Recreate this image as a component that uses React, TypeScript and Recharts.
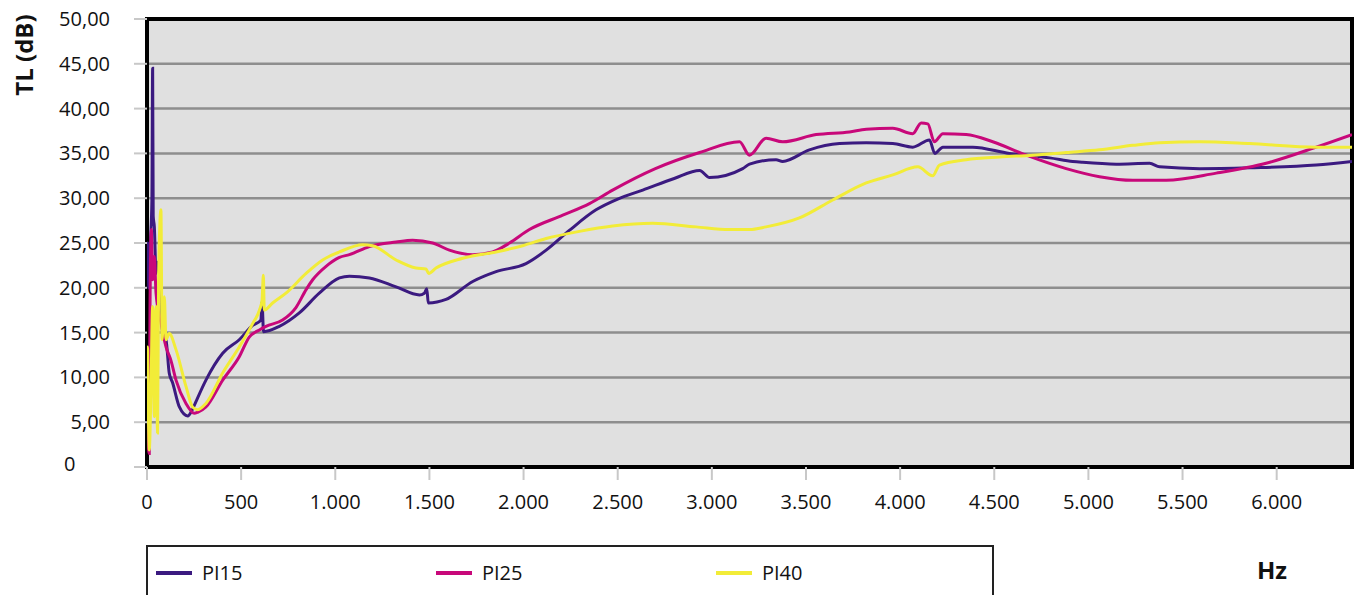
import React from "react";
import {
  CartesianGrid,
  Line,
  LineChart,
  ReferenceArea,
  XAxis,
  YAxis,
} from "recharts";

// [Hz, TL dB]
const PI15: [number, number][] = [
  [0, 22], [3, 25], [10, 20], [18, 25], [26, 29.8], [30, 44.5], [33, 28],
  [39, 26.8], [48, 21.6], [56, 22.8], [65, 22.9], [83, 14.9], [101, 14.2],
  [118, 10.5], [136, 9.4], [172, 6.7], [216, 5.7], [241, 6.4], [260, 7.3],
  [313, 9.7], [402, 12.7], [490, 14.2], [561, 15.8], [605, 16.4], [611, 18.4],
  [619, 15.1], [703, 15.7], [809, 17.2], [915, 19.4], [1022, 21.1],
  [1075, 21.3], [1181, 21.1], [1323, 20.1], [1447, 19.2], [1473, 19.4],
  [1486, 19.9], [1494, 18.3], [1588, 18.7], [1730, 20.7], [1854, 21.8],
  [2013, 22.7], [2120, 24.2], [2243, 26.4], [2385, 28.7], [2500, 29.9],
  [2633, 30.9], [2800, 32.2], [2935, 33.1], [2988, 32.3], [3164, 33.3],
  [3200, 33.8], [3341, 34.3], [3376, 34.1], [3518, 35.4], [3678, 36.1],
  [3820, 36.2], [3961, 36.1], [4067, 35.7], [4156, 36.5], [4184, 35.0],
  [4227, 35.7], [4386, 35.7], [4581, 35.0], [4670, 34.8], [4794, 34.5],
  [4917, 34.1], [4970, 34.0], [5148, 33.8], [5325, 33.9], [5378, 33.5],
  [5591, 33.3], [5857, 33.4], [6210, 33.7], [6400, 34.1],
];

const PI25: [number, number][] = [
  [0, 8], [5, 3], [12, 1.5], [16, 17.9], [23, 26.5], [30, 20.9], [39, 23.5],
  [48, 19.4], [74, 16.1], [101, 13.4], [127, 11.9], [154, 9.7], [207, 7.1],
  [251, 6.0], [269, 6.1], [313, 6.7], [402, 9.7], [490, 12.3], [543, 14.5],
  [597, 15.3], [632, 15.7], [720, 16.4], [791, 17.8], [845, 19.8],
  [880, 20.9], [951, 22.4], [1022, 23.4], [1075, 23.7], [1181, 24.6],
  [1323, 25.1], [1411, 25.3], [1517, 25.0], [1606, 24.2], [1730, 23.7],
  [1836, 24.0], [1925, 25.0], [2031, 26.5], [2208, 28.1], [2350, 29.4],
  [2473, 30.9], [2700, 33.3], [2935, 35.1], [3147, 36.3], [3200, 34.8],
  [3288, 36.7], [3376, 36.3], [3554, 37.1], [3731, 37.4], [3820, 37.7],
  [3961, 37.8], [4067, 37.2], [4112, 38.4], [4147, 38.3], [4182, 36.3],
  [4227, 37.2], [4351, 37.1], [4492, 36.3], [4670, 34.8], [4882, 33.3],
  [5059, 32.4], [5236, 32.0], [5413, 32.0], [5679, 32.8], [5944, 33.9],
  [6210, 35.7], [6400, 37.1],
];

const PI40: [number, number][] = [
  [0, 13], [3, 13.4], [8, 5], [12, 1.9], [21, 8.6], [30, 17.9], [39, 5.6],
  [48, 17.9], [56, 3.8], [62, 21.6], [74, 28.7], [80, 14.2], [92, 19.0],
  [101, 14.2], [118, 14.9], [154, 13.1], [207, 9.0], [242, 6.7], [269, 6.4],
  [313, 7.1], [402, 10.5], [490, 13.4], [561, 16.0], [597, 17.5], [611, 18.6],
  [618, 21.4], [623, 17.5], [667, 18.3], [738, 19.4], [845, 21.6],
  [933, 23.1], [1022, 24.0], [1145, 24.8], [1198, 24.7], [1323, 23.1],
  [1429, 22.2], [1482, 22.1], [1496, 21.6], [1535, 22.2], [1677, 23.3],
  [1854, 24.0], [1995, 24.7], [2120, 25.5], [2297, 26.3], [2473, 26.9],
  [2686, 27.2], [2916, 26.8], [3093, 26.5], [3200, 26.5], [3288, 26.8],
  [3465, 27.8], [3642, 29.8], [3820, 31.7], [3961, 32.6], [4094, 33.5],
  [4173, 32.5], [4209, 33.7], [4351, 34.3], [4528, 34.6], [4705, 34.8],
  [4882, 35.1], [5059, 35.4], [5236, 35.9], [5378, 36.2], [5591, 36.3],
  [5857, 36.1], [6210, 35.7], [6400, 35.7],
];

const X_TICKS = [0, 500, 1000, 1500, 2000, 2500, 3000, 3500, 4000, 4500, 5000, 5500, 6000];
const Y_TICKS = [0, 5, 10, 15, 20, 25, 30, 35, 40, 45, 50];

const SERIES = [
  { name: "PI15", color: "#3b1a80", points: PI15 },
  { name: "PI25", color: "#c8087a", points: PI25 },
  { name: "PI40", color: "#f2ec38", points: PI40 },
];

const FONT = '"Open Sans", "Noto Sans", sans-serif';

const formatHz = (v: number) =>
  v >= 1000 ? `${Math.floor(v / 1000)}.${String(v % 1000).padStart(3, "0")}` : String(v);

const YTick = (props: any) => {
  const { x, y, payload } = props;
  const v = payload.value as number;
  if (v === 0) {
    return (
      <text x={x - 46} y={y - 3} dy="0.35em" textAnchor="start" fontSize={20} fill="#111" fontFamily={FONT}>
        0
      </text>
    );
  }
  return (
    <text x={x} y={y} dy="0.35em" textAnchor="end" fontSize={20} fill="#111" fontFamily={FONT}>
      {v.toFixed(2).replace(".", ",")}
    </text>
  );
};

export default function App() {
  return (
    <div
      style={{
        position: "absolute",
        left: 0,
        top: 0,
        width: 1356,
        height: 595,
        overflow: "hidden",
        background: "#fff",
        fontFamily: FONT,
      }}
    >
      <LineChart width={1356} height={595} margin={{ top: 19, right: 4, bottom: 0, left: 0 }}>
        <CartesianGrid vertical={false} stroke="#8e8e8e" strokeWidth={2.5} fill="#e0e0e0" />
        <XAxis
          type="number"
          dataKey="hz"
          domain={[0, 6400]}
          ticks={X_TICKS}
          interval={0}
          height={128}
          axisLine={false}
          tickLine={{ stroke: "#c8c8c8", strokeWidth: 2 }}
          tickSize={13}
          tickMargin={15}
          tickFormatter={formatHz}
          tick={{ fontSize: 20, fill: "#111", fontFamily: FONT }}
          allowDataOverflow
        />
        <YAxis
          type="number"
          domain={[0, 50]}
          ticks={Y_TICKS}
          interval={0}
          width={147}
          axisLine={false}
          tickLine={{ stroke: "#c8c8c8", strokeWidth: 2 }}
          tickSize={13}
          tickMargin={24}
          tick={<YTick />}
          allowDataOverflow
        />
        {SERIES.map((s) => (
          <Line
            key={s.name}
            name={s.name}
            data={s.points.map(([hz, tl]) => ({ hz, tl }))}
            dataKey="tl"
            type="monotone"
            stroke={s.color}
            strokeWidth={3}
            dot={false}
            activeDot={false}
            isAnimationActive={false}
          />
        ))}
        <ReferenceArea x1={0} x2={6400} y1={0} y2={50} fill="none" stroke="#000" strokeWidth={4} />
      </LineChart>

      <div
        style={{
          position: "absolute",
          left: 8,
          top: 55,
          transform: "translate(-50%, -50%) rotate(-90deg)",
          transformOrigin: "center",
          fontSize: 24,
          fontWeight: 700,
          whiteSpace: "nowrap",
          color: "#111",
          marginLeft: 15,
        }}
      >
        TL (dB)
      </div>
      <div
        style={{
          position: "absolute",
          left: 1257,
          top: 553,
          fontSize: 24,
          fontWeight: 700,
          color: "#111",
        }}
      >
        Hz
      </div>

      <div
        style={{
          position: "absolute",
          left: 146,
          top: 545,
          width: 848,
          height: 70,
          border: "2px solid #222",
          boxSizing: "border-box",
        }}
      >
        {SERIES.map((s, i) => (
          <div key={s.name} style={{ position: "absolute", left: 8 + i * 280, top: 12, display: "flex", alignItems: "center" }}>
            <div style={{ width: 36, height: 4, background: s.color }} />
            <span style={{ marginLeft: 10, fontSize: 20, color: "#111" }}>{s.name}</span>
          </div>
        ))}
      </div>
    </div>
  );
}
